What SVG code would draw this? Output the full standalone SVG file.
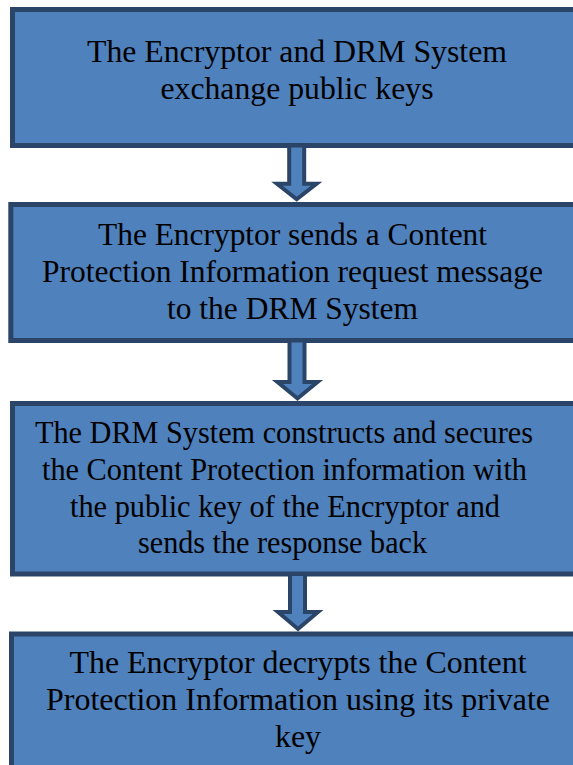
<svg xmlns="http://www.w3.org/2000/svg" width="573" height="765" viewBox="0 0 573 765">
<defs>
<style>
.box{fill:#4f81bd;stroke:#2a4568;stroke-width:5}
.arr{fill:#4f81bd;stroke:#2a4568;stroke-width:4;stroke-linejoin:miter}
.t{font-family:"Liberation Serif","Times New Roman",serif;font-size:32px;fill:#000;text-anchor:middle}
.s2{font-size:31.5px}
.s3{font-size:30.5px}
</style>
</defs>
<rect width="573" height="765" fill="#fff"/>
<g id="node1">
<rect class="box" x="12.5" y="9.5" width="600" height="136"/>
<text class="t" x="297" y="62" textLength="420" lengthAdjust="spacingAndGlyphs">The Encryptor and DRM System</text>
<text class="t" x="297" y="98.5" textLength="273" lengthAdjust="spacingAndGlyphs">exchange public keys</text>
</g>
<g id="node2">
<rect class="box" x="10.8" y="204.5" width="600" height="136"/>
<text class="t s2" x="292.5" y="245" textLength="389" lengthAdjust="spacingAndGlyphs">The Encryptor sends a Content</text>
<text class="t s2" x="292.5" y="282" textLength="501" lengthAdjust="spacingAndGlyphs">Protection Information request message</text>
<text class="t s2" x="292.5" y="319" textLength="251" lengthAdjust="spacingAndGlyphs">to the DRM System</text>
</g>
<g id="node3">
<rect class="box" x="12.5" y="403.5" width="600" height="170.5"/>
<text class="t s3" x="284" y="443" textLength="498" lengthAdjust="spacingAndGlyphs">The DRM System constructs and secures</text>
<text class="t s3" x="284.5" y="480" textLength="485" lengthAdjust="spacingAndGlyphs">the Content Protection information with</text>
<text class="t s3" x="285" y="517" textLength="430" lengthAdjust="spacingAndGlyphs">the public key of the Encryptor and</text>
<text class="t s3" x="282.5" y="553" textLength="289" lengthAdjust="spacingAndGlyphs">sends the response back</text>
</g>
<g id="node4">
<rect class="box" x="11.5" y="634" width="600" height="160"/>
<text class="t" x="298" y="673" textLength="457" lengthAdjust="spacingAndGlyphs">The Encryptor decrypts the Content</text>
<text class="t" x="298" y="710" textLength="504" lengthAdjust="spacingAndGlyphs">Protection Information using its private</text>
<text class="t" x="298" y="747">key</text>
</g>
<g id="connectors">
<polygon class="arr" points="289.2,145.5 304.2,145.5 304.2,183.7 316.5,183.7 296.7,199.2 277,183.7 289.2,183.7"/>
<polygon class="arr" points="289.5,340.5 304.5,340.5 304.5,382 317.5,382 297.5,398.5 277.5,382 289.5,382"/>
<polygon class="arr" points="290,574 305,574 305,612 318,612 298,629 278,612 290,612"/>
</g>
</svg>
